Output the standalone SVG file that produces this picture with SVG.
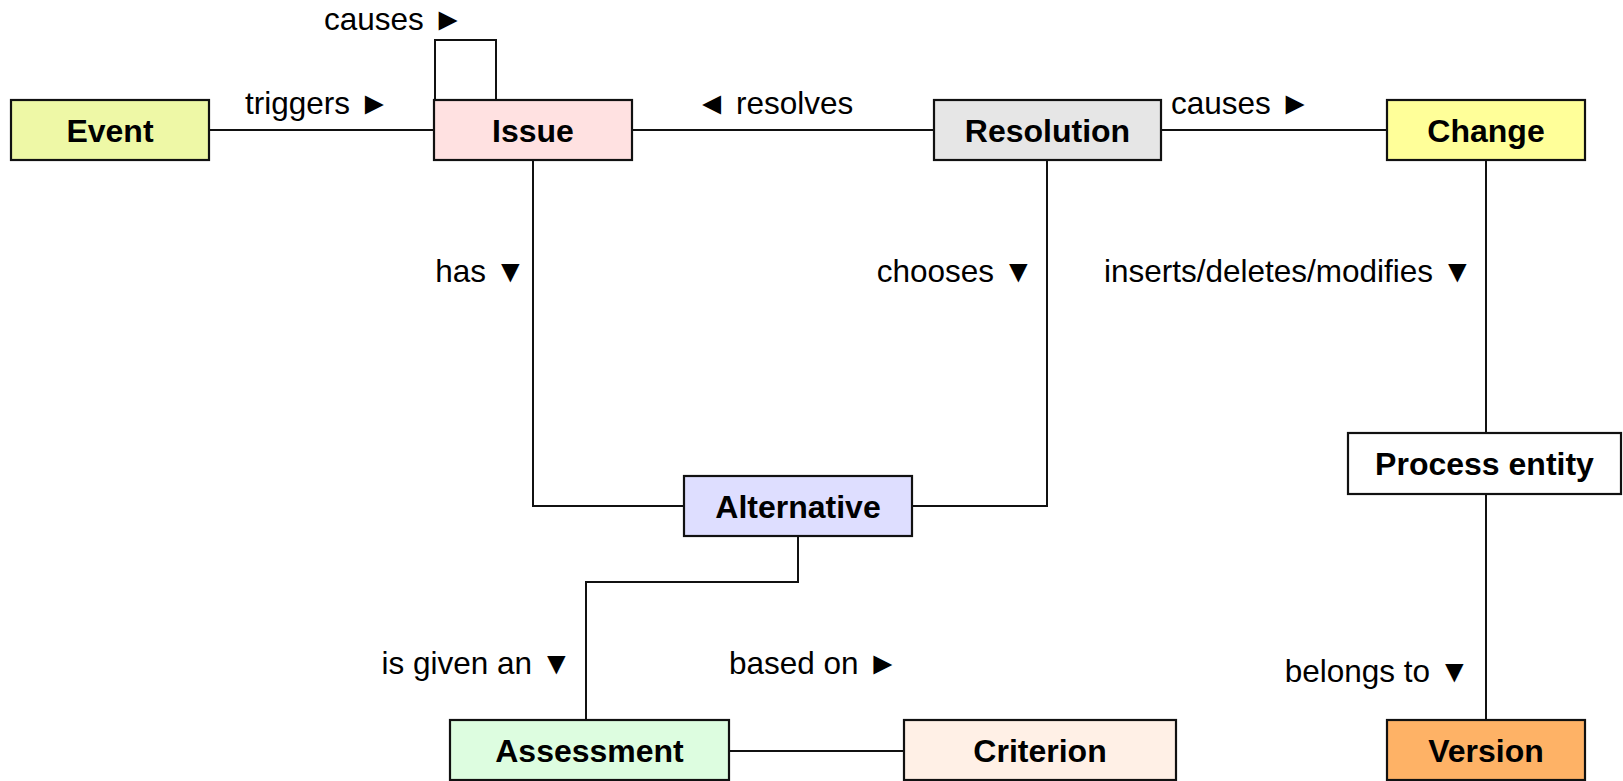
<svg xmlns="http://www.w3.org/2000/svg" width="1623" height="781" viewBox="0 0 1623 781">
<style>
.box{stroke:#111;stroke-width:2.2}
.nt{font-family:"Liberation Sans",Arial,sans-serif;font-weight:bold;font-size:32px;fill:#000;text-anchor:middle}
.lb{font-family:"Liberation Sans",Arial,sans-serif;font-size:31.5px;fill:#000}
.e{text-anchor:end}
.c{fill:none;stroke:#111;stroke-width:2}
</style>
<rect width="1623" height="781" fill="#fff"/>
<g id="connectors">
<line class="c" x1="209" y1="130" x2="434" y2="130"/>
<polyline class="c" points="435,100 435,40 496,40 496,100"/>
<line class="c" x1="632" y1="130" x2="934" y2="130"/>
<line class="c" x1="1161" y1="130" x2="1387" y2="130"/>
<polyline class="c" points="533,160 533,506 684,506"/>
<polyline class="c" points="1047,160 1047,506 912,506"/>
<polyline class="c" points="798,536 798,582 586,582 586,720"/>
<line class="c" x1="729" y1="751" x2="904" y2="751"/>
<line class="c" x1="1486" y1="160" x2="1486" y2="433"/>
<line class="c" x1="1486" y1="494" x2="1486" y2="720"/>
</g>
<g id="labels">
<text class="lb" x="324" y="30">causes ►</text>
<text class="lb" x="245" y="114">triggers ►</text>
<text class="lb" x="696" y="114">◄ resolves</text>
<text class="lb" x="1171" y="114">causes ►</text>
<text class="lb e" x="526" y="282">has ▼</text>
<text class="lb e" x="1034" y="282">chooses ▼</text>
<text class="lb e" x="1473" y="282">inserts/deletes/modifies ▼</text>
<text class="lb e" x="572" y="674">is given an ▼</text>
<text class="lb" x="729" y="674">based on ►</text>
<text class="lb e" x="1470" y="682">belongs to ▼</text>
</g>
<g id="event"><rect class="box" x="11" y="100" width="198" height="60" fill="#eef8a6"/><text class="nt" x="110" y="142">Event</text></g>
<g id="issue"><rect class="box" x="434" y="100" width="198" height="60" fill="#ffe1e1"/><text class="nt" x="533" y="142">Issue</text></g>
<g id="resolution"><rect class="box" x="934" y="100" width="227" height="60" fill="#e6e6e6"/><text class="nt" x="1047.5" y="142">Resolution</text></g>
<g id="change"><rect class="box" x="1387" y="100" width="198" height="60" fill="#ffff99"/><text class="nt" x="1486" y="142">Change</text></g>
<g id="process-entity"><rect class="box" x="1348" y="433" width="273" height="61" fill="#fff"/><text class="nt" x="1484.5" y="475">Process entity</text></g>
<g id="alternative"><rect class="box" x="684" y="476" width="228" height="60" fill="#dedeff"/><text class="nt" x="798" y="518">Alternative</text></g>
<g id="assessment"><rect class="box" x="450" y="720" width="279" height="60" fill="#ddfde0"/><text class="nt" x="589.5" y="762">Assessment</text></g>
<g id="criterion"><rect class="box" x="904" y="720" width="272" height="60" fill="#fff0e6"/><text class="nt" x="1040" y="762">Criterion</text></g>
<g id="version"><rect class="box" x="1387" y="720" width="198" height="60" fill="#feb266"/><text class="nt" x="1486" y="762">Version</text></g>
</svg>
